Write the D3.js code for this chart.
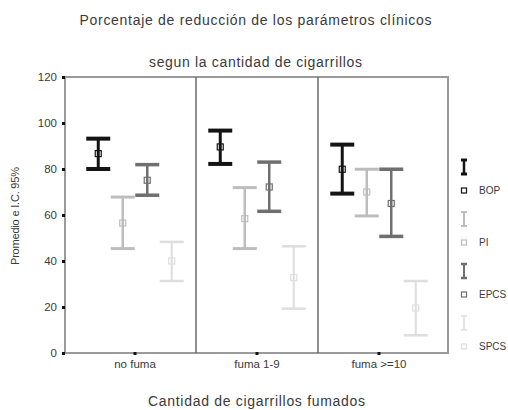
<!DOCTYPE html>
<html>
<head>
<meta charset="utf-8">
<script src="https://cdn.jsdelivr.net/npm/d3@7"></script>
<style>
  html, body { margin: 0; padding: 0; background: #fff; }
  svg { display: block; font-family: "Liberation Sans", Arial, sans-serif; }
</style>
</head>
<body>
<svg id="chart" width="508" height="410"></svg>
<script>
// Smoking groups and clinical parameters
const categories = ["no fuma", "fuma 1-9", "fuma >=10"];
const series = ["BOP", "PI", "EPCS", "SPCS"];

// Mean reduction (%) and 95% confidence interval per parameter, by group
const meanBOP  = [86.7, 89.6, 79.9];
const lowBOP   = [80.0, 82.2, 69.3];
const highBOP  = [93.2, 96.7, 90.6];

const meanPI   = [56.5, 58.4, 70.0];
const lowPI    = [45.4, 45.4, 59.6];
const highPI   = [67.8, 71.9, 79.9];

const meanEPCS = [75.1, 72.2, 65.0];
const lowEPCS  = [68.6, 61.6, 50.7];
const highEPCS = [81.9, 83.0, 79.9];

const meanSPCS = [40.0, 32.8, 19.6];
const lowSPCS  = [31.3, 19.3, 7.7];
const highSPCS = [48.3, 46.4, 31.3];

const yTicks = [0, 20, 40, 60, 80, 100, 120];

const table = {
  BOP:  { mean: meanBOP,  low: lowBOP,  high: highBOP },
  PI:   { mean: meanPI,   low: lowPI,   high: highPI },
  EPCS: { mean: meanEPCS, low: lowEPCS, high: highEPCS },
  SPCS: { mean: meanSPCS, low: lowSPCS, high: highSPCS }
};

const style = {
  BOP:  { color: "#141414", cap: 4,   stem: 3 },
  PI:   { color: "#bdbdbd", cap: 3,   stem: 2.5 },
  EPCS: { color: "#6f6f6f", cap: 3.5, stem: 2.5 },
  SPCS: { color: "#dedede", cap: 2.5, stem: 2 }
};

const svg = d3.select("#chart");
const frame = { left: 65, right: 448, top: 77, bottom: 353 };

const y = d3.scaleLinear().domain([0, 120]).range([frame.bottom, frame.top]);
const x = d3.scaleBand().domain(categories).range([74, 440]);
const xs = d3.scaleBand().domain(series).range([12, 110]);

// Titles
function title(txt, cx, cy, size, len) {
  svg.append("text").attr("x", cx).attr("y", cy).attr("text-anchor", "middle")
    .attr("font-size", size).attr("fill", "#3a3a3a")
    .attr("textLength", len).attr("lengthAdjust", "spacing")
    .text(txt);
}
title("Porcentaje de reducción de los parámetros clínicos", 255.5, 25, 14, 352);
title("segun la cantidad de cigarrillos", 255.5, 67, 14, 213);
title("Cantidad de cigarrillos fumados", 256.5, 406, 14, 217);

svg.append("text")
  .attr("transform", "translate(19,216) rotate(-90)")
  .attr("text-anchor", "middle").attr("font-size", 11).attr("fill", "#3a3a3a")
  .attr("textLength", 98).attr("lengthAdjust", "spacing")
  .text("Promedio e I.C. 95%");

// Plot frame
svg.append("rect")
  .attr("x", frame.left).attr("y", frame.top)
  .attr("width", frame.right - frame.left).attr("height", frame.bottom - frame.top)
  .attr("fill", "none").attr("stroke", "#9a9a9a").attr("stroke-width", 2);

// Group separators
svg.selectAll("line.sep").data(categories.slice(1)).enter().append("line")
  .attr("class", "sep")
  .attr("x1", d => x(d)).attr("x2", d => x(d))
  .attr("y1", frame.top).attr("y2", frame.bottom)
  .attr("stroke", "#6a6a6a").attr("stroke-width", 1.5);

// Y axis
const yAxis = svg.append("g").attr("transform", `translate(${frame.left},0)`)
  .call(d3.axisLeft(y).tickValues(yTicks).tickSize(0).tickPadding(8));
yAxis.select(".domain").remove();
yAxis.selectAll("text").attr("font-size", 11.5).attr("fill", "#3a3a3a")
  .attr("font-family", "'Liberation Sans', Arial, sans-serif");
yAxis.selectAll(".tick").append("rect")
  .attr("x", -3).attr("y", -1.5).attr("width", 3).attr("height", 3).attr("fill", "#111");

// X axis
const xAxis = svg.append("g").attr("transform", `translate(0,${frame.bottom})`)
  .call(d3.axisBottom(x).tickSize(0).tickPadding(7));
xAxis.select(".domain").remove();
xAxis.selectAll("text").attr("font-size", 11.5).attr("fill", "#3a3a3a")
  .attr("font-family", "'Liberation Sans', Arial, sans-serif");
xAxis.selectAll(".tick").append("rect")
  .attr("x", -1.5).attr("y", -1).attr("width", 3).attr("height", 3).attr("fill", "#111");

// Error bars
const capW = 24;
const rows = [];
series.forEach(s => categories.forEach((c, i) => {
  rows.push({ s, c, mean: table[s].mean[i], low: table[s].low[i], high: table[s].high[i] });
}));

const g = svg.append("g");
const bars = g.selectAll("g.bar").data(rows).enter().append("g")
  .attr("class", "bar")
  .attr("transform", d => `translate(${x(d.c) + xs(d.s) + xs.bandwidth() / 2},0)`);

bars.append("line")
  .attr("x1", 0).attr("x2", 0)
  .attr("y1", d => y(d.low)).attr("y2", d => y(d.high))
  .attr("stroke", d => style[d.s].color).attr("stroke-width", d => style[d.s].stem);
bars.append("line")
  .attr("x1", -capW / 2).attr("x2", capW / 2)
  .attr("y1", d => y(d.high)).attr("y2", d => y(d.high))
  .attr("stroke", d => style[d.s].color).attr("stroke-width", d => style[d.s].cap);
bars.append("line")
  .attr("x1", -capW / 2).attr("x2", capW / 2)
  .attr("y1", d => y(d.low)).attr("y2", d => y(d.low))
  .attr("stroke", d => style[d.s].color).attr("stroke-width", d => style[d.s].cap);
bars.append("rect")
  .attr("x", -3).attr("y", d => y(d.mean) - 3).attr("width", 6).attr("height", 6)
  .attr("fill", "none").attr("stroke", d => style[d.s].color).attr("stroke-width", 1.2);

// Legend
const legend = svg.append("g").attr("transform", "translate(464,167)");
const item = legend.selectAll("g").data(series).enter().append("g")
  .attr("transform", (d, i) => `translate(0,${i * 52})`);
item.append("line").attr("x1", 0).attr("x2", 0).attr("y1", -7).attr("y2", 7)
  .attr("stroke", d => style[d].color).attr("stroke-width", d => style[d].stem - 0.5);
item.append("line").attr("x1", -3).attr("x2", 3).attr("y1", -7).attr("y2", -7)
  .attr("stroke", d => style[d].color).attr("stroke-width", d => style[d].cap - 1);
item.append("line").attr("x1", -3).attr("x2", 3).attr("y1", 7).attr("y2", 7)
  .attr("stroke", d => style[d].color).attr("stroke-width", d => style[d].cap - 1);
item.append("rect").attr("x", -2.5).attr("y", 21).attr("width", 5).attr("height", 5)
  .attr("fill", "none").attr("stroke", d => style[d].color).attr("stroke-width", 1.2);
item.append("text").attr("x", 15).attr("y", 27)
  .attr("font-size", 10).attr("fill", "#3a3a3a").text(d => d);
</script>
</body>
</html>
